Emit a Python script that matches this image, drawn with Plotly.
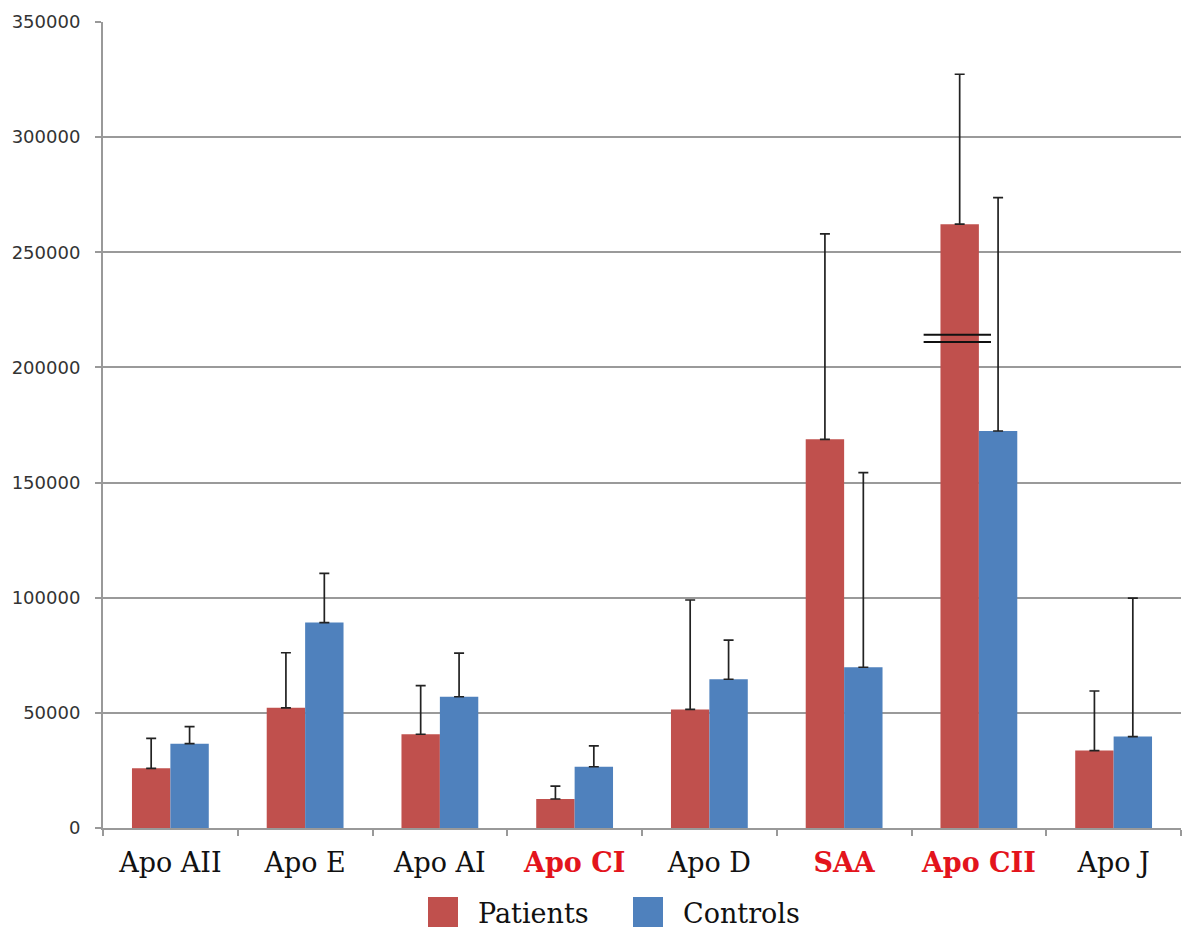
import plotly.graph_objects as go

# Apolipoprotein levels, patients vs controls (mean with upper SD whisker)
categories = ["Apo AII", "Apo E", "Apo AI", "Apo CI", "Apo D", "SAA", "Apo CII", "Apo J"]
highlighted = ["Apo CI", "SAA", "Apo CII"]

patients = [25900, 52200, 40700, 12600, 51500, 168800, 262200, 33600]
patients_upper = [38950, 76100, 61800, 18200, 99000, 258000, 327300, 59500]

controls = [36600, 89200, 57000, 26600, 64600, 69800, 172400, 39700]
controls_upper = [44000, 110600, 75900, 35700, 81600, 154300, 273700, 99800]

y_ticks = [0, 50000, 100000, 150000, 200000, 250000, 300000, 350000]

RED = "#C0504D"
BLUE = "#4F81BD"
LABEL_RED = "#E3141C"
SERIF = "DejaVu Serif"

W, H = 1186, 933
M_L, M_R, M_T, M_B = 103, 5, 22, 105
PLOT_W = W - M_L - M_R
PLOT_H = H - M_T - M_B


def px_to_paper_x(px):
    return (px - M_L) / PLOT_W


def px_to_paper_y(py):
    return (H - M_B - py) / PLOT_H


def err_bar(values, upper):
    return dict(
        type="data",
        symmetric=False,
        array=[u - v for u, v in zip(upper, values)],
        arrayminus=[0] * len(values),
        color="#222222",
        thickness=1.7,
        width=5,
    )


tick_text = [
    f"<span style='color:{LABEL_RED}'><b>{c}</b></span>" if c in highlighted else c
    for c in categories
]

fig = go.Figure()
fig.add_trace(go.Bar(
    x=categories, y=patients, name="Patients",
    marker=dict(color=RED, line=dict(width=0)),
    error_y=err_bar(patients, patients_upper),
    showlegend=False,
))
fig.add_trace(go.Bar(
    x=categories, y=controls, name="Controls",
    marker=dict(color=BLUE, line=dict(width=0)),
    error_y=err_bar(controls, controls_upper),
    showlegend=False,
))

# axis-break marks across the Apo CII patients bar
brk_idx = categories.index("Apo CII")
for yv in (211000, 214200):
    fig.add_shape(
        type="line", xref="x", yref="y",
        x0=brk_idx - 0.41, x1=brk_idx + 0.09, y0=yv, y1=yv,
        line=dict(color="#111111", width=2),
    )

# legend drawn as squares + text below the axis labels
legend_items = [("Patients", RED, 428), ("Controls", BLUE, 633)]
for name, color, left in legend_items:
    fig.add_shape(
        type="rect", xref="paper", yref="paper",
        x0=px_to_paper_x(left), x1=px_to_paper_x(left + 30),
        y0=px_to_paper_y(927), y1=px_to_paper_y(897),
        fillcolor=color, line=dict(width=0),
    )
    fig.add_annotation(
        x=px_to_paper_x(left + 48), y=px_to_paper_y(913),
        xref="paper", yref="paper", xanchor="left", yanchor="middle",
        text=name, showarrow=False,
        font=dict(family=SERIF, size=27, color="#111111"),
    )

fig.update_layout(
    width=W, height=H,
    margin=dict(l=M_L, r=M_R, t=M_T, b=M_B, pad=0),
    paper_bgcolor="white", plot_bgcolor="white",
    barmode="group", bargap=0.43, bargroupgap=0,
    showlegend=False,
)
fig.update_xaxes(
    type="category",
    tickmode="array", tickvals=categories, ticktext=tick_text,
    tickson="boundaries", ticks="outside", ticklen=6, tickcolor="#999999", tickwidth=1.5,
    showline=True, linecolor="#999999", linewidth=2,
    showgrid=False,
    tickfont=dict(family=SERIF, size=27, color="#111111"),
    ticklabelstandoff=10,
)
fig.update_yaxes(
    range=[0, 350000],
    tickmode="array", tickvals=y_ticks, ticktext=[str(v) for v in y_ticks],
    ticks="outside", ticklen=6, tickcolor="#999999", tickwidth=1.5,
    showline=True, linecolor="#999999", linewidth=2,
    showgrid=True, gridcolor="#9a9a9a", gridwidth=2,
    zeroline=False,
    tickfont=dict(family="DejaVu Sans", size=18, color="#333333"),
    ticklabelstandoff=11,
)

fig.write_html("out.html")
